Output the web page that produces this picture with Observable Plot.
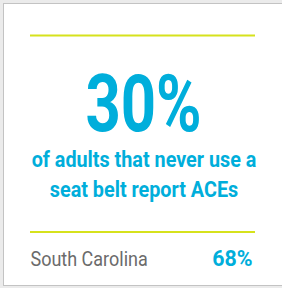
<!DOCTYPE html>
<html>
<head>
<meta charset="utf-8">
<script src="https://cdn.jsdelivr.net/npm/d3@7"></script>
<script src="https://cdn.jsdelivr.net/npm/@observablehq/plot@0.6"></script>
<style>
  html, body { margin: 0; padding: 0; background: #ebebeb; }
  #chart svg { display: block; }
</style>
</head>
<body>
<div id="chart"></div>
<script>
// ---- data ----
const headlineValue = [30];
const descriptionLines = ["of adults that never use a", "seat belt report ACEs"];
const regionNames = ["South Carolina"];
const regionValues = [68];

// ---- style ----
const cyan = "#00aedb";
const lime = "#d6e21c";
const grey = "#6b6b6b";

const W = 282, H = 288;

const plot = Plot.plot({
  width: W,
  height: H,
  margin: 0,
  x: {domain: [0, W], range: [0, W], axis: null},
  y: {domain: [0, H], range: [0, H], axis: null},
  style: {background: "#ebebeb", fontFamily: "Roboto"},
  marks: [
    // card
    Plot.rect([0], {x1: 3.5, x2: 290, y1: 3.5, y2: 285.5, fill: "white", stroke: "#c3c3c3", strokeWidth: 1}),
    // lime rules
    Plot.ruleY([35, 231.5], {y: d => d, x1: 30, x2: 255, stroke: lime, strokeWidth: 2.2}),
    // headline
    Plot.text(headlineValue, {
      x: 143, y: 130, text: d => `${d}%`, fill: cyan, fontSize: 80, fontWeight: 700,
      textAnchor: "middle", lineAnchor: "bottom"
    }),
    // description
    Plot.text([descriptionLines.join("\n")], {
      x: 143.5, y: 196, text: d => d, fill: cyan, fontSize: 22, fontWeight: 700,
      textAnchor: "middle", lineAnchor: "bottom", lineHeight: 1.32
    }),
    // region label
    Plot.text(regionNames, {
      x: 30, y: 265.5, text: d => d, fill: grey, fontSize: 20, fontWeight: 400,
      textAnchor: "start", lineAnchor: "bottom"
    }),
    Plot.text(regionValues, {
      x: 252, y: 265, text: d => `${d}%`, fill: cyan, fontSize: 22, fontWeight: 700,
      textAnchor: "end", lineAnchor: "bottom"
    })
  ]
});

// condense text horizontally (approximates a condensed typeface)
const squeeze = [0.77, 0.9, 0.9, 0.97];
plot.querySelectorAll('g[aria-label="text"]').forEach((g, i) => {
  const s = squeeze[i];
  g.querySelectorAll("text").forEach(t => {
    const tr = t.getAttribute("transform") || "";
    t.setAttribute("transform", `${tr} scale(${s},1)`.trim());
  });
});
document.getElementById("chart").appendChild(plot);
</script>
</body>
</html>
